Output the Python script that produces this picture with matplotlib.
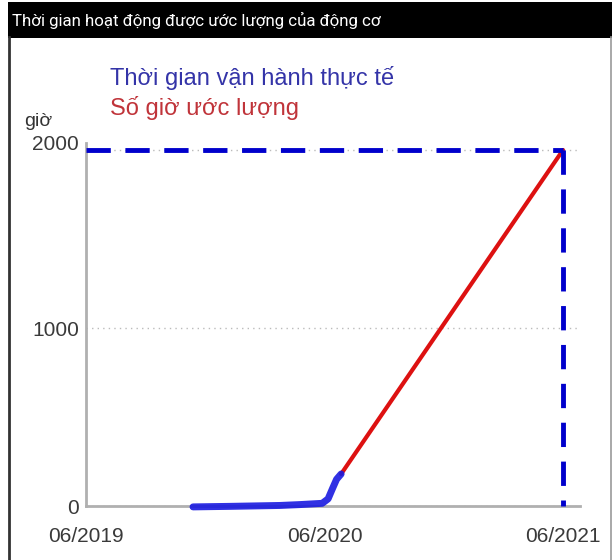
import matplotlib
matplotlib.use("Agg")
import matplotlib.pyplot as plt
import matplotlib.dates as mdates
import matplotlib.transforms as mtransforms
from matplotlib.patches import Rectangle
from matplotlib.lines import Line2D
import datetime as dt

plt.rcParams['font.family'] = ['Liberation Sans', 'DejaVu Sans']

title = "Thời gian hoạt động được ước lượng của động cơ"
legend_actual = "Thời gian vận hành thực tế"
legend_est = "Số giờ ước lượng"
y_unit = "giờ"

actual_dates = ["2019-11-12", "2020-01-08", "2020-03-24", "2020-04-24", "2020-05-28",
                "2020-06-06", "2020-06-13", "2020-06-19", "2020-06-26"]
actual_hours = [-5, -2, 3, 8, 15, 40, 100, 150, 180]

est_dates = ["2020-06-26", "2021-06-01"]
est_hours = [180, 2000]

limit_date = "2021-06-01"
limit_hours = 2000

yticks = [0, 1000, 2000]
xtick_dates = ["2019-06-01", "2020-06-01", "2021-06-01"]
xtick_labels = ["06/2019", "06/2020", "06/2021"]

def d(s):
    return dt.datetime.strptime(s, "%Y-%m-%d")

W, H = 615, 560
fig = plt.figure(figsize=(W / 100, H / 100), dpi=100)
fig.patch.set_facecolor("white")

# frame decorations
fig.add_artist(Rectangle((8 / W, 1 - 38 / H), (612 - 8) / W, 36 / H, transform=fig.transFigure,
                         facecolor="black", edgecolor="none"))
fig.text(12 / W, 1 - 20 / H, title, color="white", fontsize=12.2, va="center", ha="left",
         family=["Roboto", "DejaVu Sans"])
fig.add_artist(Line2D([9 / W, 9 / W], [0, 1 - 37 / H], transform=fig.transFigure,
                      color="#333333", lw=2))
fig.add_artist(Line2D([611 / W, 611 / W], [0, 1 - 37 / H], transform=fig.transFigure,
                      color="#999999", lw=1.2))

x0, x1 = 86, 580
ytop, ybot = 143, 506
ax = fig.add_axes([x0 / W, 1 - ybot / H, (x1 - x0) / W, (ybot - ytop) / H])
start = d(xtick_dates[0])
end = d(xtick_dates[-1])
px_per_day = (563 - 86) / (end - start).days
ax.set_xlim(mdates.date2num(start), mdates.date2num(end) + (x1 - 563) / px_per_day)
px_per_hour = (506 - 150) / 2000
ax.set_ylim(0, 2000 + (150 - ytop) / px_per_hour)

for s in ["top", "right"]:
    ax.spines[s].set_visible(False)
for s in ["left", "bottom"]:
    ax.spines[s].set_color("#b0b0b0")
    ax.spines[s].set_linewidth(2)

ax.set_yticks(yticks)
ax.set_yticklabels([str(v) for v in yticks])
ax.set_xticks([mdates.date2num(d(s)) for s in xtick_dates])
ax.set_xticklabels(xtick_labels)
ax.tick_params(length=0, labelsize=15, labelcolor="#3a3a3a", pad=5)
ax.tick_params(axis="x", pad=15)
top_lbl = ax.get_yticklabels()[-1]
top_lbl.set_transform(top_lbl.get_transform() +
                      mtransforms.ScaledTranslation(0, 8 / 100, fig.dpi_scale_trans))
ax.grid(axis="y", color="#bbbbbb", linestyle=(0, (1, 3)), lw=1)
ax.set_axisbelow(True)

ld = mdates.date2num(d(limit_date))
ax.plot([mdates.date2num(start), ld], [limit_hours, limit_hours], color="#0000cc", lw=3.5,
        linestyle=(0, (5, 3)), clip_on=False, zorder=4)
ax.plot([ld, ld], [limit_hours, 0], color="#0000cc", lw=3.5,
        linestyle=(0, (5, 3)), clip_on=False, zorder=4)

ax.plot([mdates.date2num(d(s)) for s in est_dates], est_hours, color="#dd1111", lw=3,
        solid_capstyle="round", clip_on=False, zorder=3)
ax.plot([mdates.date2num(d(s)) for s in actual_dates], actual_hours, color="#1a1ae0", lw=5,
        solid_capstyle="round", solid_joinstyle="round", clip_on=False, zorder=5, alpha=0.9)

fig.text(110 / W, 1 - 78 / H, legend_actual, color="#3434a8", fontsize=17, va="center", ha="left")
fig.text(110 / W, 1 - 108 / H, legend_est, color="#c0343a", fontsize=17, va="center", ha="left")
fig.text(24 / W, 1 - 121 / H, y_unit, color="#333333", fontsize=14, va="center", ha="left")

fig.savefig("out.png", dpi=100)
